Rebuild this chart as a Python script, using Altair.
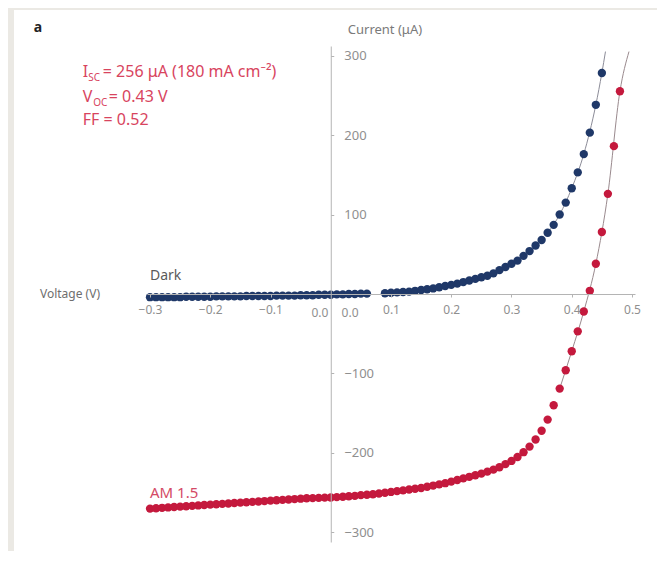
import altair as alt
import pandas as pd

# ---------------- data ----------------
dark_voltage = [-0.30, -0.29, -0.28, -0.27, -0.26, -0.25, -0.24, -0.23, -0.22, -0.21,
                -0.20, -0.19, -0.18, -0.17, -0.16, -0.15, -0.14, -0.13, -0.12, -0.11,
                -0.10, -0.09, -0.08, -0.07, -0.06, -0.05, -0.04, -0.03, -0.02, -0.01,
                0.00, 0.01, 0.02, 0.03, 0.04, 0.05, 0.06, 0.09, 0.10, 0.11,
                0.12, 0.13, 0.14, 0.15, 0.16, 0.17, 0.18, 0.19, 0.20, 0.21,
                0.22, 0.23, 0.24, 0.25, 0.26, 0.27, 0.28, 0.29, 0.30, 0.31,
                0.32, 0.33, 0.34, 0.35, 0.36, 0.37, 0.38, 0.39, 0.40, 0.41,
                0.42, 0.43, 0.44, 0.45]
dark_current = [-4, -4, -4, -4, -4, -4, -3.5, -3.5, -3.5, -3.5,
                -3.5, -3, -3, -3, -3, -3, -2.5, -2.5, -2.5, -2.5,
                -2.5, -2, -2, -2, -2, -1.5, -1.5, -1.5, -1, -1,
                -1, -0.5, -0.5, 0, 0, 0.5, 0.5, 1, 1.5, 2,
                2.5, 3, 4, 5, 6, 7, 8.5, 10, 11.5, 13,
                15, 17, 19, 21, 23, 26, 30, 34, 38, 42,
                48, 54, 61, 68, 77, 87, 100, 115, 133, 153,
                176, 203, 238, 278]

light_voltage = [-0.30, -0.29, -0.28, -0.27, -0.26, -0.25, -0.24, -0.23, -0.22, -0.21,
                 -0.20, -0.19, -0.18, -0.17, -0.16, -0.15, -0.14, -0.13, -0.12, -0.11,
                 -0.10, -0.09, -0.08, -0.07, -0.06, -0.05, -0.04, -0.03, -0.02, -0.01,
                 0.00, 0.01, 0.02, 0.03, 0.04, 0.05, 0.06, 0.07, 0.08, 0.09,
                 0.10, 0.11, 0.12, 0.13, 0.14, 0.15, 0.16, 0.17, 0.18, 0.19,
                 0.20, 0.21, 0.22, 0.23, 0.24, 0.25, 0.26, 0.27, 0.28, 0.29,
                 0.30, 0.31, 0.32, 0.33, 0.34, 0.35, 0.36, 0.37, 0.38, 0.39,
                 0.40, 0.41, 0.42, 0.43, 0.44, 0.45, 0.46, 0.47, 0.48]
light_current = [-270, -269.5, -269, -268.5, -268, -267.5, -267, -266.5, -266, -265.5,
                 -265, -264.5, -264, -263.5, -263, -262.5, -262, -261.5, -261, -260.5,
                 -260, -259.5, -259, -258.5, -258, -257.5, -257, -256.8, -256.5, -256.2,
                 -256, -255.5, -255, -254.5, -254, -253, -252.5, -252, -251, -250,
                 -249, -248, -247, -246, -245, -244, -242.5, -241, -239.5, -238,
                 -236, -234, -232, -230, -228, -226, -223.5, -221, -218, -214,
                 -210, -205, -199, -192, -183, -172, -158, -140, -119, -96,
                 -72, -47, -22, 4, 38, 78, 126, 186, 255]

dark_fit_voltage = [0.36, 0.38, 0.40, 0.42, 0.44, 0.45, 0.456]
dark_fit_current = [77, 100, 133, 176, 238, 278, 305]
light_fit_voltage = [0.38, 0.40, 0.42, 0.44, 0.46, 0.48, 0.495]
light_fit_current = [-119, -72, -22, 38, 126, 255, 305]

x_tick_values = [-0.3, -0.2, -0.1, 0.1, 0.2, 0.3, 0.4, 0.5]
zero_labels = ["0.0", "0.0"]
y_tick_values = [-300, -200, -100, 100, 200, 300]
series_names = ["Dark", "AM 1.5"]
x_title = "Voltage (V)"
y_title = "Current (μA)"
panel_letter = "a"
ann_isc = ["I", "SC", " = 256 μA (180 mA cm⁻²)"]
ann_voc = ["V", "OC", " = 0.43 V"]
ann_ff = "FF = 0.52"

# ---------------- layout ----------------
W, H = 488, 496
XDOM = [-0.305, 0.505]
YDOM = [-312, 312]
PX_V = W / (XDOM[1] - XDOM[0])      # pixels per volt
PX_I = H / (YDOM[1] - YDOM[0])      # pixels per microamp
FONT = "Noto Sans"
DARK = "#1f3868"
RED = "#c4193d"
AXIS_GREY = "#b4b4b4"
LABEL_GREY = "#8f8f8f"

x_axis = alt.Axis(orient="bottom", offset=-H / 2, values=x_tick_values, format=".1f",
                  title=None, grid=False, domainColor=AXIS_GREY, tickColor=AXIS_GREY,
                  tickSize=3, labelColor=LABEL_GREY, labelFontSize=12, labelFont=FONT,
                  labelPadding=7, labelOverlap=False, labelFlush=False, zindex=1)
y_axis = alt.Axis(orient="right", offset=-(W - (0 - XDOM[0]) * PX_V), values=y_tick_values,
                  format="d", title=None, grid=False, domainColor=AXIS_GREY,
                  tickColor=AXIS_GREY, tickSize=3, labelColor=LABEL_GREY, labelFontSize=13,
                  labelFont=FONT, labelPadding=10, labelOverlap=False, labelFlush=False,
                  zindex=1)

X = alt.X("V:Q", scale=alt.Scale(domain=XDOM, nice=False, zero=False), axis=x_axis)
Y = alt.Y("I:Q", scale=alt.Scale(domain=YDOM, nice=False, zero=False), axis=y_axis)

dark_df = pd.DataFrame({"V": dark_voltage, "I": dark_current})
light_df = pd.DataFrame({"V": light_voltage, "I": light_current})
dark_fit_df = pd.DataFrame({"V": dark_fit_voltage, "I": dark_fit_current})
light_fit_df = pd.DataFrame({"V": light_fit_voltage, "I": light_fit_current})

# white panel behind everything (page frame)
panel = alt.Chart(pd.DataFrame({"V": [0.0], "I": [0.0]})).mark_rect(color="white").encode(
    x=alt.value(-133), x2=alt.value(W + 22), y=alt.value(-36), y2=alt.value(H + 9)
)

fit_dark = alt.Chart(dark_fit_df).mark_line(color="#8c8c98", strokeWidth=1,
                                            interpolate="monotone").encode(x=X, y=Y)
fit_light = alt.Chart(light_fit_df).mark_line(color="#9a8a8e", strokeWidth=1,
                                              interpolate="monotone").encode(x=X, y=Y)
pts_dark = alt.Chart(dark_df).mark_circle(color=DARK, size=70, opacity=1).encode(x=X, y=Y)
pts_light = alt.Chart(light_df).mark_circle(color=RED, size=70, opacity=1).encode(x=X, y=Y)


def vpx(px):
    return px / PX_V


def ipx(px):
    return px / PX_I


def text_layer(rows, **kw):
    df = pd.DataFrame(rows, columns=["V", "I", "t"])
    return alt.Chart(df).mark_text(font=FONT, **kw).encode(x=X, y=Y, text="t:N")


series_lbl = text_layer([[-0.30, 23, series_names[0]]], align="left", baseline="middle",
                        fontSize=14, color="#5a5a5a")
am_lbl = text_layer([[-0.30, -250, series_names[1]]], align="left", baseline="middle",
                    fontSize=15, color="#d44a66")
xtitle = text_layer([[-0.383, 0, x_title]], align="right", baseline="middle",
                    fontSize=12, color="#6e6e6e")
ytitle = text_layer([[0.09, 332, y_title]], align="center", baseline="middle",
                    fontSize=13, color="#7a7a7a")
letter = text_layer([[-0.486, 335, panel_letter]], align="center", baseline="middle",
                    fontSize=14, fontWeight="bold", color="#222222")
zeros = text_layer([[-0.018, -24, zero_labels[0]], [0.032, -24, zero_labels[1]]],
                   align="center", baseline="middle", fontSize=12, color=LABEL_GREY)

a0 = -0.4116
ann_main = text_layer([
    [a0, 279, ann_isc[0]],
    [a0 + vpx(20), 279, ann_isc[2]],
    [a0, 248, ann_voc[0]],
    [a0 + vpx(26), 248, ann_voc[2]],
    [a0, 219, ann_ff],
], align="left", baseline="middle", fontSize=16, color="#d8445e")
ann_sub = text_layer([
    [a0 + vpx(5.5), 279 - ipx(6), ann_isc[1]],
    [a0 + vpx(10.5), 248 - ipx(6), ann_voc[1]],
], align="left", baseline="middle", fontSize=10, color="#d8445e")

chart = alt.layer(
    panel, fit_dark, fit_light, pts_dark, pts_light,
    series_lbl, am_lbl, xtitle, ytitle, letter, zeros, ann_main, ann_sub
).properties(
    width=W, height=H,
    padding={"left": 139, "top": 38, "right": 22, "bottom": 9},
    autosize=alt.AutoSizeParams(type="none"),
    background="#ebe9e4",
).configure_view(strokeWidth=0)

chart.save("out.html", embed_options={"renderer": "svg", "actions": False})
